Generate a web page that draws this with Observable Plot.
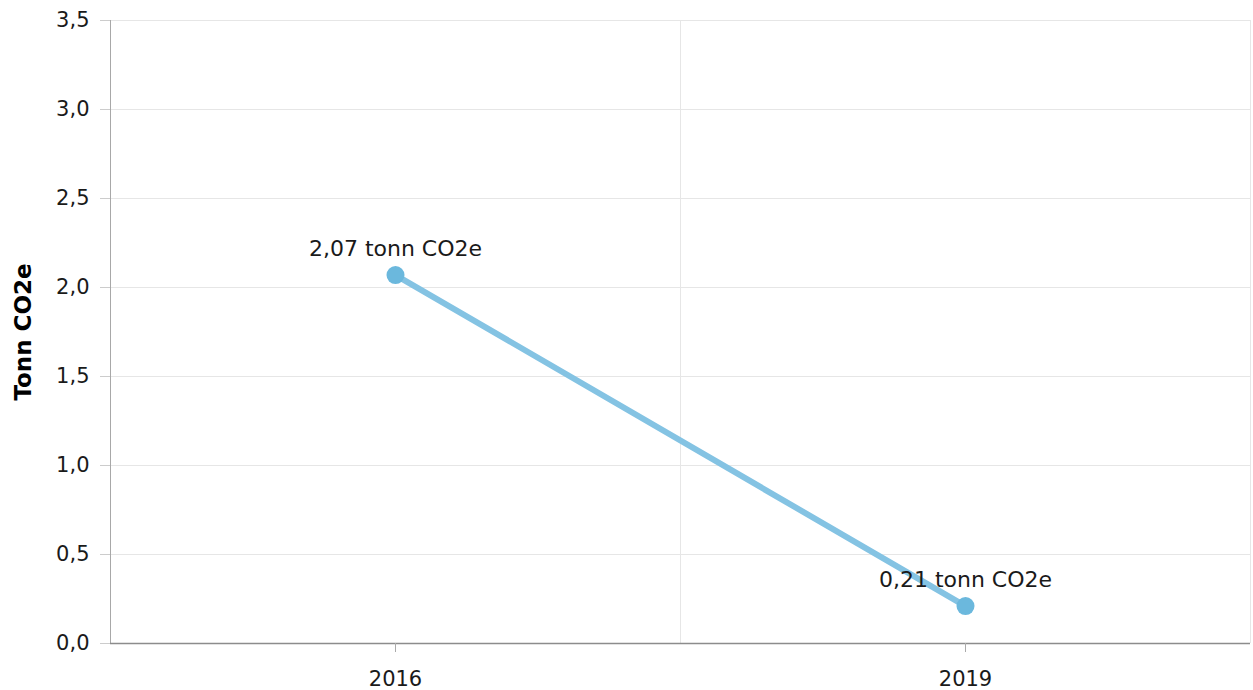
<!DOCTYPE html>
<html>
<head>
<meta charset="utf-8">
<script src="https://cdn.jsdelivr.net/npm/d3@7"></script>
<script src="https://cdn.jsdelivr.net/npm/@observablehq/plot@0.6"></script>
<style>
  html, body { margin: 0; padding: 0; background: #ffffff; }
  #chart { width: 1253px; height: 690px; }
</style>
</head>
<body>
<div id="chart"></div>
<script>
// Data
const years = ["2016", "2019"];
const values = [2.07, 0.21];
const unit = "tonn CO2e";
const yAxisTitle = "Tonn CO2e";
const yTicks = [0, 0.5, 1, 1.5, 2, 2.5, 3, 3.5];

const comma = v => d3.format(".1f")(v).replace(".", ",");
const comma2 = v => d3.format(".2f")(v).replace(".", ",");

const data = years.map((y, i) => ({ i, year: y, value: values[i], label: comma2(values[i]) + " " + unit }));
const xIdx = years.map((_, i) => i);
const xBounds = years.map((_, i) => i + 0.5);

const chart = Plot.plot({
  width: 1253,
  height: 690,
  marginLeft: 110,
  marginRight: 3,
  marginTop: 20,
  marginBottom: 47,
  style: { fontFamily: "'DejaVu Sans', Verdana, sans-serif", fontSize: "21px", color: "#1a1a1a", background: "#ffffff" },
  x: { type: "linear", domain: [-0.5, years.length - 0.5] },
  y: { domain: [0, 3.5] },
  marks: [
    Plot.gridY(yTicks, { stroke: "#e6e6e6", strokeOpacity: 1 }),
    Plot.gridX(xBounds, { stroke: "#e6e6e6", strokeOpacity: 1 }),
    Plot.axisY(yTicks, { tickSize: 10, tickPadding: 11, tickFormat: comma, stroke: "#cccccc", label: null }),
    Plot.ruleX([-0.5], { stroke: "#a8a8a8" }),
    Plot.ruleY([0], { stroke: "#8c8c8c", strokeWidth: 1.3 }),
    Plot.axisX(xIdx, { tickSize: 9, tickPadding: 19, tickFormat: i => years[i], stroke: "#aaaaaa", label: null }),
    Plot.line(data, { x: "i", y: "value", stroke: "#84c3e3", strokeWidth: 6 }),
    Plot.dot(data, { x: "i", y: "value", r: 9, fill: "#6bb8dd", stroke: "none" }),
    Plot.text(data, { x: "i", y: "value", text: "label", dy: -26, fontSize: 22, fill: "#1a1a1a" }),
    Plot.text([yAxisTitle], { frameAnchor: "left", textAnchor: "middle", rotate: -90, dx: -87, fontWeight: "bold", fontSize: 23, fill: "#000" })
  ]
});
document.getElementById("chart").appendChild(chart);
</script>
</body>
</html>
